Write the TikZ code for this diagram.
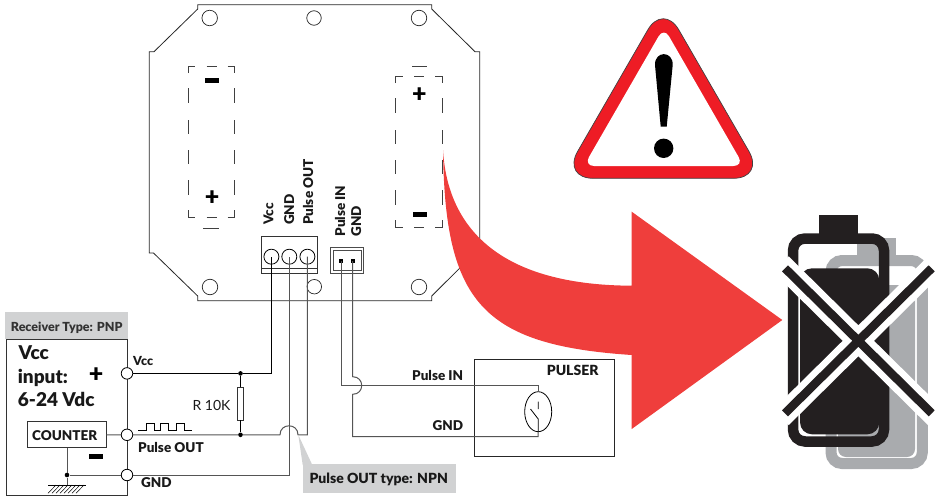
\documentclass[tikz,border=0pt]{standalone}
\usepackage{fontspec}
\setmainfont{Lato}[BoldFont={Lato Black}]
\usetikzlibrary{positioning,shapes.geometric}
\definecolor{alarm}{HTML}{EE1C25}
\definecolor{flow}{HTML}{EF3E3C}
\definecolor{cellK}{HTML}{231F20}
\definecolor{cellG}{HTML}{A9ABAE}
\definecolor{tagG}{HTML}{D1D2D3}
\definecolor{wireG}{HTML}{555555}
\tikzstyle{board}=[line width=.8pt,black!85]
\tikzstyle{hole}=[circle,draw=black!85,line width=.7pt,inner sep=0pt,minimum size=15.5pt]
\tikzstyle{cell}=[line width=1pt,black!75]
\tikzstyle{wire}=[line width=1pt,black]
\tikzstyle{wireB}=[wire,wireG]
\tikzstyle{term}=[circle,draw=black,fill=white,line width=.8pt,inner sep=0pt,minimum size=11.5pt]
\tikzstyle{pin}=[circle,draw=black,line width=.8pt,inner sep=0pt,minimum size=15pt]
\tikzstyle{dot}=[circle,fill=black,inner sep=0pt,minimum size=4.6pt]
\tikzstyle{lbl}=[inner sep=0pt,text=black!90,font=\bfseries\fontsize{13.5}{14}\selectfont]
\tikzstyle{lblL}=[lbl,anchor=base west]
\tikzstyle{lblR}=[lbl,anchor=base east]
\tikzstyle{lblV}=[lbl,anchor=base west,rotate=90]
\tikzstyle{big}=[lblL,font=\bfseries\fontsize{19}{20}\selectfont]
\tikzstyle{plusS}=[inner sep=0pt,font=\bfseries\fontsize{25}{25}\selectfont]
\tikzstyle{minusS}=[fill=black,inner sep=0pt,minimum width=14pt,minimum height=4.4pt]
\tikzstyle{tag}=[fill=tagG,inner sep=0pt]
\begin{document}
\begin{tikzpicture}[x=1pt,y=-1pt]
\useasboundingbox (0,0) rectangle (952,503);
% board
\draw[board] (197.7,4.7) -- (431.7,4.7) -- (431.7,9) -- (475,51.7) -- (479.8,51.7) -- (479.8,253) -- (475,253)
  -- (431.7,296) -- (431.7,300.7) -- (197.7,300.7) -- (197.7,296) -- (153.5,253) -- (149.3,253)
  -- (149.3,51.7) -- (154,51.7) -- (197.7,9) -- cycle;
\foreach \n/\x/\y in {a/209.7/18, c/419/18, d/210/287, f/419/287}
  {\node[hole] (hole\n) at (\x,\y) {};}
\node[hole,minimum size=14.5pt] (holeb) at (314,18) {};
\node[hole,minimum size=14.5pt] (holee) at (314.3,286.7) {};
% battery cells
\foreach \x/\y in {188/66, 395.7/76}
  {\foreach \a/\b in {22/37, 54/68, 84/98, 114/129}
     {\draw[cell] (\x,\y+\a) -- (\x,\y+\b) (\x+46.7,\y+\a) -- (\x+46.7,\y+\b);}
   \draw[cell] (\x,\y+7) -- (\x,\y) -- (\x+7,\y) (\x+18.7,\y) -- (\x+28.7,\y) (\x+39.7,\y) -- (\x+46.7,\y) -- (\x+46.7,\y+7);
   \draw[cell] (\x,\y+144) -- (\x,\y+151.7) -- (\x+7,\y+151.7) (\x+18.7,\y+151.7) -- (\x+28.7,\y+151.7) (\x+39.7,\y+151.7) -- (\x+46.7,\y+151.7) -- (\x+46.7,\y+144);}
\draw[cell] (203.3,228) -- (218.7,228) (412,66) -- (427,66);
\node[minusS] (minusA) at (212,80.5) {};
\node[plusS] (plusA) at (212,198) {+};
\node[plusS] (plusB) at (419.3,95) {+};
\node[minusS] (minusB) at (420,214.3) {};
% connectors on the board
\node[draw=black!80,line width=.8pt,minimum width=56.7pt,minimum height=36.6pt,inner sep=0pt] (block) at (289.3,255) {};
\draw[black!80,line width=.8pt] (261,268.3) -- (317.7,268.3);
\foreach \n/\x in {Vcc/271.4, Gnd/289.3, Out/307.4}
  {\node[pin] (pin\n) at (\x,256.7) {};}
\node[draw=black!70,line width=1pt,minimum width=33.4pt,minimum height=25.6pt,inner sep=0pt] (jack) at (347,260.5) {};
\node[draw=black!70,line width=.7pt,minimum width=28pt,minimum height=19.3pt,inner sep=0pt] (jackIn) at (347,260.4) {};
\node[fill=black,inner sep=0pt,minimum size=4pt] (jackA) at (341.4,261) {};
\node[fill=black,inner sep=0pt,minimum size=4pt] (jackB) at (352.5,261) {};
\node[lblV] (txtVcc) at (273.3,225) {Vcc};
\node[lblV] (txtGnd) at (294,225) {GND};
\node[lblV] (txtOut) at (313,225) {Pulse OUT};
\node[lblV] (txtIn) at (345,236.7) {Pulse IN};
\node[lblV] (txtGndB) at (361,236.7) {GND};
% receiver
\node[tag,minimum width=122.7pt,minimum height=27.6pt] (recTag) at (66.3,325.5) {};
\node[lbl,font=\bfseries\fontsize{12.5}{13}\selectfont,text=black!80,anchor=base] (recTxt) at (66.7,331.5) {Receiver Type: PNP};
\draw[line width=1pt,black!80] (6,339.3) rectangle (127.3,495.7);
\node[big] (txtA) at (18.5,359.3) {Vcc};
\node[big] (txtB) at (17.7,383) {input:};
\node[big] (txtC) at (17.7,406.7) {6-24 Vdc};
\node[plusS] (plusC) at (96,375.5) {+};
\node[minusS] (minusC) at (96,456.3) {};
\node[draw=black!80,line width=.8pt,minimum width=78.7pt,minimum height=26pt,inner sep=0pt] (counter) at (66.7,434.7) {};
\node[lbl,anchor=base] (counterTxt) at (64.7,440.3) {COUNTER};
\coordinate (gndTop) at (67,485);
\node[dot] (dotG) at (67,475) {};
\draw[wireB] (counter.south -| dotG) -- (dotG) -- (gndTop);
\draw[wire,line width=.8pt] (48,485) -- (86,485);
\foreach \x in {56,60,...,84}
  {\draw[line width=.5pt] (\x,485) -- (\x-8,493.3);}
% wires
\node[term] (tVcc) at (127,373.4) {};
\node[term] (tOut) at (127,434.8) {};
\node[term] (tGnd) at (127,475) {};
\node[dot] (dotA) at (240.5,373.4) {};
\node[dot] (dotB) at (240.5,434.8) {};
\node[draw=black!80,fill=white,line width=.8pt,minimum width=6.6pt,minimum height=32.7pt,inner sep=0pt] (res) at (240.5,403.6) {};
\draw[wire] (dotA) -- (res) -- (dotB);
\draw[wire] (tVcc) -- (dotA) -| (pinVcc.center);
\draw[wireB] (tGnd) -- (dotG);
\draw[wireB] (tGnd) -| (pinGnd.center);
\draw[wireB] (counter) -- (tOut);
\coordinate (bumpA) at (280,434.8);
\coordinate (bumpB) at (298,434.8);
\draw[wireB] (tOut) -- (dotB) -- (bumpA) .. controls (280,422.8) and (298,422.8) .. (bumpB) -| (pinOut.center);
% pulser
\node[draw=black!85,line width=.9pt,minimum width=139.6pt,minimum height=96.7pt,inner sep=0pt] (pulser) at (544.5,407.7) {};
\node[draw=black,line width=.8pt,ellipse,inner sep=0pt,minimum width=27pt,minimum height=40pt] (contact) at (538.2,411.7) {};
\coordinate (swTop) at (538.2,391.7);
\coordinate (swBot) at (538.2,431.7);
\draw[wireB] (jackA.center) -- (341.4,385.7) -- (538.2,385.7) -- (swTop);
\draw[wireB] (jackB.center) -- (352.7,376.7) .. controls (364.7,376.7) and (364.7,394.3) .. (352.7,394.3) -- (352.7,436.7) -- (538.2,436.7) -- (swBot);
\draw[line width=.8pt] (538.2,401.7) -- (538.2,409) (530.5,409) -- (538.2,419) -- (swBot);
\node[lbl,anchor=base,font=\bfseries\fontsize{14}{14}\selectfont] (pulserTxt) at (572.7,375.7) {PULSER};
\node[lblR] (txtIn2) at (463.3,380) {Pulse IN};
\node[lblR] (txtGnd2) at (463.3,430.7) {GND};
\node[lblL] (txtVcc2) at (133,365.7) {\fontsize{12.5}{13}\selectfont Vcc};
\node[lblL] (txtOut2) at (138,452) {Pulse OUT};
\node[lblL] (txtGnd3) at (141,487.3) {GND};
\node[lblR,font=\fontsize{14}{14}\selectfont] (txtRes) at (230.7,410) {R 10K};
\draw[line width=.7pt] (138.3,430.7) -- (146,430.7) -- (146,423.7) -- (154,423.7) -- (154,430.7) -- (160.7,430.7) -- (160.7,423.7) -- (168.3,423.7) -- (168.3,430.7) -- (176.7,430.7) -- (176.7,423.7) -- (184.3,423.7) -- (184.3,430.7) -- (191.7,430.7);
% tag
\node[tag,minimum width=153.3pt,minimum height=28.4pt] (outTag) at (379.3,478.5) {};
\coordinate (outTip) at (298.3,434.8);
\fill[tagG] (outTip) -- (312.3,465) -- (302.7,465) -- cycle;
\node[lbl,anchor=base,font=\bfseries\fontsize{14}{14}\selectfont] (outTxt) at (378.7,483.3) {Pulse OUT type: NPN};
% arrow
\fill[flow] (443,150) .. controls (447,220) and (490,285) .. (631.7,285.7) -- (631.7,211.7) -- (782.3,320)
  -- (631.7,429) -- (631.7,355) .. controls (480,345) and (445,300) .. (443,150) -- cycle;
% warning
\fill[alarm,draw=black!75,line width=.7pt,rounded corners=31pt] (663.3,3) -- (764.5,178.3) -- (562.1,178.3) -- cycle;
\fill[white,rounded corners=10.4pt] (663.8,27.3) -- (743.8,166) -- (583.8,166) -- cycle;
\fill[black] (660.7,126.7) -- (655,65) .. controls (654.5,50.5) and (673.2,50.5) .. (672.7,65) -- (666.7,126.7) -- cycle;
\fill[black] (663.7,148.3) circle[radius=9.7pt];
% batteries
\fill[cellG] (857.3,237.5) rectangle (896,258);
\draw[cellG,line width=11pt,rounded corners=11pt] (831,260.5) rectangle (922.3,463.5);
\fill[cellG,rounded corners=8pt] (838,285) rectangle (915,457);
\fill[cellK] (819.3,215) rectangle (857.7,236);
\draw[cellK,line width=10.5pt,rounded corners=12pt] (793,238.5) rectangle (884,441.5);
\fill[cellK,rounded corners=12pt] (800,268.3) rectangle (879.3,434.3);
\draw[white,line width=22pt] (781,264.3) -- (935.7,417.3) (935.7,264.3) -- (781,417.3);
\draw[cellK,line width=8.5pt] (785,268.3) -- (931.7,413.3) (931.7,268.3) -- (785,413.3);
\end{tikzpicture}
\end{document}
